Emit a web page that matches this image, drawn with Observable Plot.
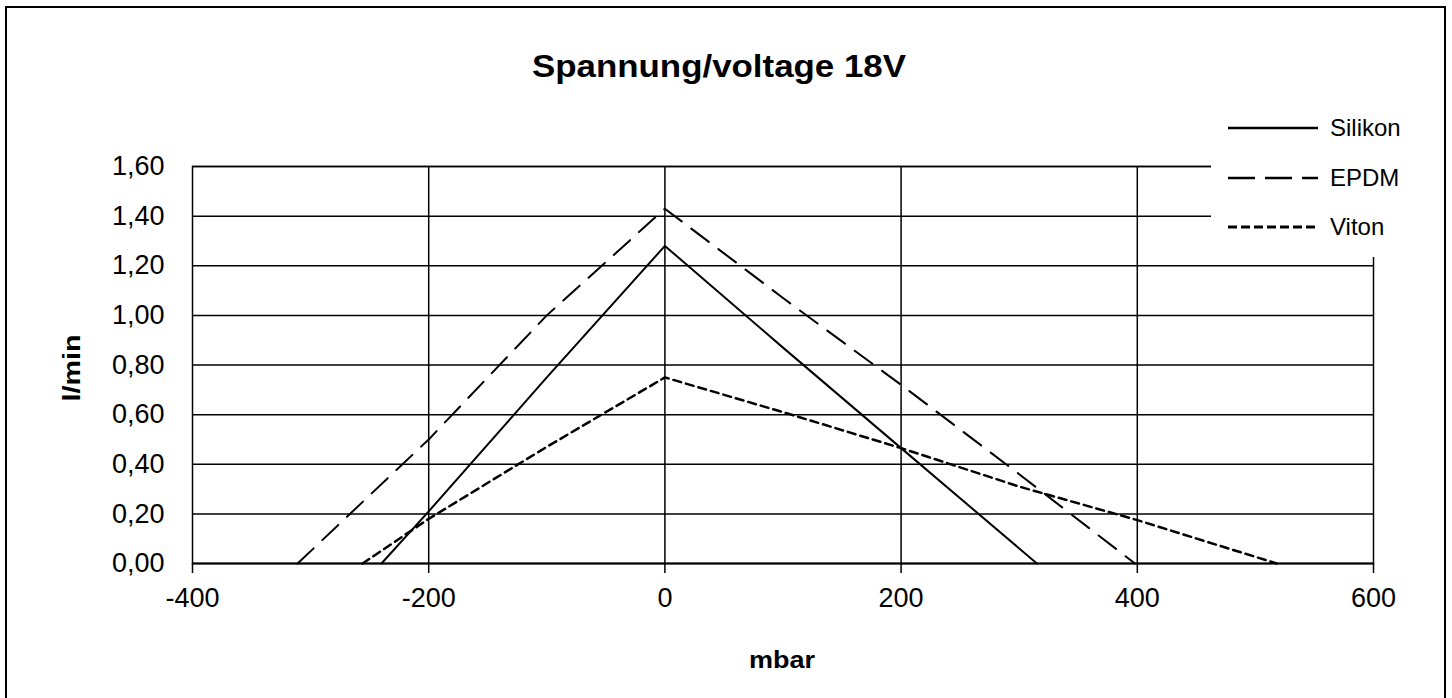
<!DOCTYPE html>
<html>
<head>
<meta charset="utf-8">
<script src="https://cdn.jsdelivr.net/npm/d3@7"></script>
<script src="https://cdn.jsdelivr.net/npm/@observablehq/plot@0.6"></script>
<style>
  html, body { margin: 0; padding: 0; background: #fff; }
  #chart svg { display: block; }
</style>
</head>
<body>
<div id="chart"></div>
<script>
// ---- data ----
const chartTitle = "Spannung/voltage 18V";
const xTitle = "mbar";
const yTitle = "l/min";
const mbarTicks = [-400, -200, 0, 200, 400, 600];
const flowTicks = [0, 0.2, 0.4, 0.6, 0.8, 1.0, 1.2, 1.4, 1.6];
const seriesNames = ["Silikon", "EPDM", "Viton"];

const silikonMbar = [-240, -200, -100, 0, 100, 200, 315];
const silikonFlow = [0, 0.21, 0.75, 1.28, 0.87, 0.465, 0];

const epdmMbar = [-311, -200, -100, 0, 100, 200, 300, 398];
const epdmFlow = [0, 0.50, 1.00, 1.43, 1.07, 0.72, 0.36, 0];

const vitonMbar = [-256, -200, -100, 0, 100, 200, 300, 400, 518];
const vitonFlow = [0, 0.18, 0.47, 0.75, 0.61, 0.465, 0.31, 0.175, 0];

// ---- build tables ----
const toRows = (name, xs, ys) => xs.map((x, i) => ({series: name, mbar: x, flow: ys[i]}));
const silikon = toRows(seriesNames[0], silikonMbar, silikonFlow);
const epdm = toRows(seriesNames[1], epdmMbar, epdmFlow);
const viton = toRows(seriesNames[2], vitonMbar, vitonFlow);

const styles = {
  Silikon: {strokeWidth: 2, dash: null},
  EPDM: {strokeWidth: 2, dash: "22,12"},
  Viton: {strokeWidth: 2.5, dash: "8,5"}
};

const W = 1452, H = 698;
const fmtComma = d => d.toFixed(2).replace(".", ",");

const svg = Plot.plot({
  width: W,
  height: H,
  marginLeft: 192,
  marginRight: 79,
  marginTop: 166,
  marginBottom: 135,
  style: {fontFamily: "'Liberation Sans', Arial, sans-serif", background: "#fff", color: "#000"},
  x: {domain: [-400, 600]},
  y: {domain: [0, 1.6]},
  marks: [
    Plot.ruleX(mbarTicks.filter(d => d > -400 && d < 600), {stroke: "#000", strokeWidth: 1.5}),
    Plot.ruleY(flowTicks.filter(d => d > 0), {stroke: "#000", strokeWidth: 1.5}),
    Plot.frame({stroke: "#000", strokeWidth: 1.5}),
    Plot.ruleY([0], {stroke: "#000", strokeWidth: 2}),
    Plot.axisX({ticks: mbarTicks, tickSize: 10, tickPadding: 14, fontSize: 27, label: null, tickFormat: d => String(d), stroke: "#000", strokeWidth: 1.5}),
    Plot.axisY({ticks: flowTicks, tickSize: 0, tickPadding: 28, fontSize: 27, label: null, tickFormat: fmtComma}),
    Plot.line(silikon, {x: "mbar", y: "flow", stroke: "#000", strokeWidth: styles.Silikon.strokeWidth}),
    Plot.line(epdm, {x: "mbar", y: "flow", stroke: "#000", strokeWidth: styles.EPDM.strokeWidth, strokeDasharray: styles.EPDM.dash}),
    Plot.line(viton, {x: "mbar", y: "flow", stroke: "#000", strokeWidth: styles.Viton.strokeWidth, strokeDasharray: styles.Viton.dash})
  ]
});

const s = d3.select(svg);
const font = "'Liberation Sans', Arial, sans-serif";

// legend box (white, covers the top-right corner of the plot)
s.append("rect").attr("x", 1211).attr("y", 92).attr("width", 232).attr("height", 165).attr("fill", "#fff");
const legendY = [128, 178, 227];
seriesNames.forEach((name, i) => {
  const st = styles[name];
  const ln = s.append("line")
    .attr("x1", 1228).attr("x2", 1318)
    .attr("y1", legendY[i]).attr("y2", legendY[i])
    .attr("stroke", "#000").attr("stroke-width", st.strokeWidth + 0.5);
  if (st.dash) ln.attr("stroke-dasharray", name === "EPDM" ? "27,10" : "9,4");
  s.append("text")
    .attr("x", 1330).attr("y", legendY[i] + 8)
    .attr("text-anchor", "start")
    .attr("font-family", font).attr("font-size", 24)
    .attr("fill", "#000")
    .text(name);
});

// title
s.append("text")
  .attr("x", 719).attr("y", 77)
  .attr("text-anchor", "middle")
  .attr("font-family", font).attr("font-size", 31).attr("font-weight", "bold")
  .attr("textLength", 374).attr("lengthAdjust", "spacingAndGlyphs")
  .text(chartTitle);

// x axis title
s.append("text")
  .attr("x", 782).attr("y", 668)
  .attr("text-anchor", "middle")
  .attr("font-family", font).attr("font-size", 24).attr("font-weight", "bold")
  .attr("textLength", 66).attr("lengthAdjust", "spacingAndGlyphs")
  .text(xTitle);

// y axis title
s.append("text")
  .attr("transform", "translate(80,368) rotate(-90)")
  .attr("text-anchor", "middle")
  .attr("font-family", font).attr("font-size", 23).attr("font-weight", "bold")
  .attr("textLength", 67).attr("lengthAdjust", "spacingAndGlyphs")
  .text(yTitle);

// outer border
s.append("rect").attr("x", 6).attr("y", 7).attr("width", 1439).attr("height", 700)
  .attr("fill", "none").attr("stroke", "#000").attr("stroke-width", 2);

document.getElementById("chart").append(svg);
</script>
</body>
</html>
